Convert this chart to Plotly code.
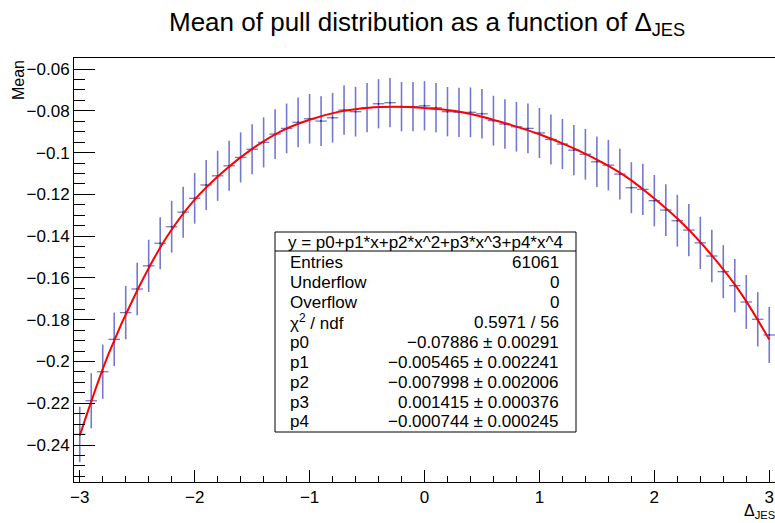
import plotly.graph_objects as go

# ---------------- data ----------------
x_centers = [-3.0, -2.9, -2.8, -2.7, -2.6, -2.5, -2.4, -2.3, -2.2, -2.1,
             -2.0, -1.9, -1.8, -1.7, -1.6, -1.5, -1.4, -1.3, -1.2, -1.1,
             -1.0, -0.9, -0.8, -0.7, -0.6, -0.5, -0.4, -0.3, -0.2, -0.1,
             0.0, 0.1, 0.2, 0.3, 0.4, 0.5, 0.6, 0.7, 0.8, 0.9,
             1.0, 1.1, 1.2, 1.3, 1.4, 1.5, 1.6, 1.7, 1.8, 1.9,
             2.0, 2.1, 2.2, 2.3, 2.4, 2.5, 2.6, 2.7, 2.8, 2.9,
             3.0]

mean_vals = [-0.2349, -0.2188, -0.2049, -0.1894, -0.1766, -0.1653, -0.1542, -0.1434, -0.1355, -0.1285,
             -0.1219, -0.1155, -0.1111, -0.1063, -0.1023, -0.0984, -0.0951, -0.0911, -0.0884, -0.0855,
             -0.0838, -0.0849, -0.0833, -0.0796, -0.0804, -0.0785, -0.0766, -0.0761, -0.0780, -0.0780,
             -0.0776, -0.0785, -0.0804, -0.0807, -0.0807, -0.0814, -0.0847, -0.0863, -0.0876, -0.0884,
             -0.0906, -0.0937, -0.0959, -0.0988, -0.1008, -0.1044, -0.1060, -0.1103, -0.1168, -0.1176,
             -0.1230, -0.1275, -0.1326, -0.1371, -0.1432, -0.1495, -0.1570, -0.1637, -0.1715, -0.1798,
             -0.1873]

mean_errs = [0.0133, 0.0132, 0.0130, 0.0128, 0.0128, 0.0126, 0.0125, 0.0124, 0.0124, 0.0122,
             0.0121, 0.0120, 0.0120, 0.0120, 0.0120, 0.0120, 0.0120, 0.0119, 0.0119, 0.0119,
             0.0119, 0.0119, 0.0119, 0.0119, 0.0119, 0.0118, 0.0118, 0.0118, 0.0118, 0.0118,
             0.0118, 0.0118, 0.0118, 0.0118, 0.0119, 0.0119, 0.0119, 0.0119, 0.0119, 0.0119,
             0.0120, 0.0120, 0.0120, 0.0120, 0.0121, 0.0121, 0.0121, 0.0122, 0.0122, 0.0123,
             0.0123, 0.0124, 0.0124, 0.0125, 0.0125, 0.0126, 0.0127, 0.0128, 0.0129, 0.0130,
             0.0134]

bin_half_width = 0.05

fit_x = [-3.0, -2.75, -2.5, -2.25, -2.0, -1.75, -1.5, -1.25, -1.0, -0.75, -0.5, -0.25, 0.0,
         0.25, 0.5, 0.75, 1.0, 1.25, 1.5, 1.75, 2.0, 2.25, 2.5, 2.75, 3.0]
fit_y = [-0.2355, -0.1965, -0.1660, -0.1410, -0.1225, -0.1090, -0.0982, -0.0898, -0.0843, -0.0805,
         -0.0786, -0.0781, -0.0786, -0.0800, -0.0828, -0.0867, -0.0912, -0.0968, -0.1034, -0.1114,
         -0.1220, -0.1342, -0.1492, -0.1670, -0.1895]

x_tickvals = [-3, -2, -1, 0, 1, 2, 3]
x_ticktext = ["\u22123", "\u22122", "\u22121", "0", "1", "2", "3"]
y_tickvals = [-0.24, -0.22, -0.20, -0.18, -0.16, -0.14, -0.12, -0.10, -0.08, -0.06]
y_ticktext = ["\u22120.24", "\u22120.22", "\u22120.2", "\u22120.18", "\u22120.16",
              "\u22120.14", "\u22120.12", "\u22120.1", "\u22120.08", "\u22120.06"]

title_text = "Mean of pull distribution as a function of \u0394<sub>JES</sub>"
x_title = "\u0394<sub>JES</sub>"
y_title = "Mean"

fit_formula = "y = p0+p1*x+p2*x^2+p3*x^3+p4*x^4"
stats_labels = ["Entries", "Underflow", "Overflow", "\u03c7<sup>2</sup> / ndf",
                "p0", "p1", "p2", "p3", "p4"]
stats_values = ["61061", "0", "0", "0.5971 / 56",
                "\u22120.07886 \u00b1 0.00291",
                "\u22120.005465 \u00b1 0.002241",
                "\u22120.007998 \u00b1 0.002006",
                "0.001415 \u00b1 0.000376",
                "\u22120.000744 \u00b1 0.000245"]

# ---------------- geometry / style ----------------
W, H = 775, 523
L, R, T, B = 74, 0, 58, 41
PW, PH = W - L - R, H - T - B
FONT = "Liberation Sans, Arial, Helvetica, sans-serif"
BAR_COLOR = "#7479cf"
TICK_FS = 17
STAT_FS = 17


def px(xp):
    return (xp - L) / PW


def py(yp):
    return (H - B - yp) / PH


fig = go.Figure()

fig.add_trace(go.Scatter(
    x=x_centers, y=mean_vals, mode="markers",
    marker=dict(size=2, color="#2a2f80"),
    error_x=dict(type="constant", value=bin_half_width, color=BAR_COLOR, thickness=1.3, width=0),
    error_y=dict(type="data", array=mean_errs, color=BAR_COLOR, thickness=1.6, width=0),
    hoverinfo="skip", showlegend=False,
))

fig.add_trace(go.Scatter(
    x=fit_x, y=fit_y, mode="lines",
    line=dict(color="#ff0000", width=2, shape="spline", smoothing=1.0),
    hoverinfo="skip", showlegend=False,
))

fig.update_layout(
    width=W, height=H,
    margin=dict(l=L, r=R, t=T, b=B, pad=0),
    paper_bgcolor="white", plot_bgcolor="white",
    font=dict(family=FONT, color="black", size=TICK_FS),
    showlegend=False,
    xaxis=dict(
        range=[-3.05, 3.05], showgrid=False, zeroline=False,
        showline=True, linecolor="black", linewidth=1, mirror=True,
        ticks="inside", ticklen=12, tickwidth=1, tickcolor="black",
        tickvals=x_tickvals, ticktext=x_ticktext,
        tickfont=dict(size=TICK_FS, family=FONT),
        minor=dict(ticks="inside", ticklen=6, dtick=0.2, tick0=0, tickcolor="black", showgrid=False),
    ),
    yaxis=dict(
        range=[-0.2577, -0.0547], showgrid=False, zeroline=False,
        showline=True, linecolor="black", linewidth=1, mirror=False,
        ticks="inside", ticklen=21, tickwidth=1, tickcolor="black",
        tickvals=y_tickvals, ticktext=y_ticktext,
        tickfont=dict(size=TICK_FS, family=FONT),
        minor=dict(ticks="inside", ticklen=11, dtick=0.005, tick0=0, tickcolor="black", showgrid=False),
    ),
)

# title
fig.add_annotation(text=title_text, xref="paper", yref="paper",
                   x=px(427), y=py(24), xanchor="center", yanchor="middle",
                   showarrow=False, font=dict(size=26, family=FONT, color="black"))

# axis titles
fig.add_annotation(text=y_title, xref="paper", yref="paper",
                   x=px(18), y=py(58), xanchor="center", yanchor="top", textangle=-90,
                   showarrow=False, font=dict(size=16, family=FONT, color="black"))
fig.add_annotation(text=x_title, xref="paper", yref="paper",
                   x=px(777), y=py(500), xanchor="right", yanchor="top",
                   showarrow=False, font=dict(size=16, family=FONT, color="black"))

# stats box
BX0, BX1, BY0, BY1, BSEP = 275, 576, 232, 432, 251
fig.add_shape(type="rect", xref="paper", yref="paper",
              x0=px(BX0), x1=px(BX1), y0=py(BY1), y1=py(BY0),
              line=dict(color="black", width=1), fillcolor="white", layer="above")
fig.add_shape(type="line", xref="paper", yref="paper",
              x0=px(BX0), x1=px(BX1), y0=py(BSEP), y1=py(BSEP),
              line=dict(color="black", width=1), layer="above")
fig.add_annotation(text=fit_formula, xref="paper", yref="paper",
                   x=px((BX0 + BX1) / 2), y=py((BY0 + BSEP) / 2 + 0.5), xanchor="center", yanchor="middle",
                   showarrow=False, font=dict(size=STAT_FS, family=FONT, color="black"))
for i, (lab, val) in enumerate(zip(stats_labels, stats_values)):
    yc = 262.7 + 19.9 * i
    fig.add_annotation(text=lab, xref="paper", yref="paper",
                       x=px(288), y=py(yc), xanchor="left", yanchor="middle",
                       showarrow=False, font=dict(size=STAT_FS, family=FONT, color="black"))
    fig.add_annotation(text=val, xref="paper", yref="paper",
                       x=px(561), y=py(yc), xanchor="right", yanchor="middle",
                       showarrow=False, font=dict(size=STAT_FS, family=FONT, color="black"))

fig.write_html("out.html")
